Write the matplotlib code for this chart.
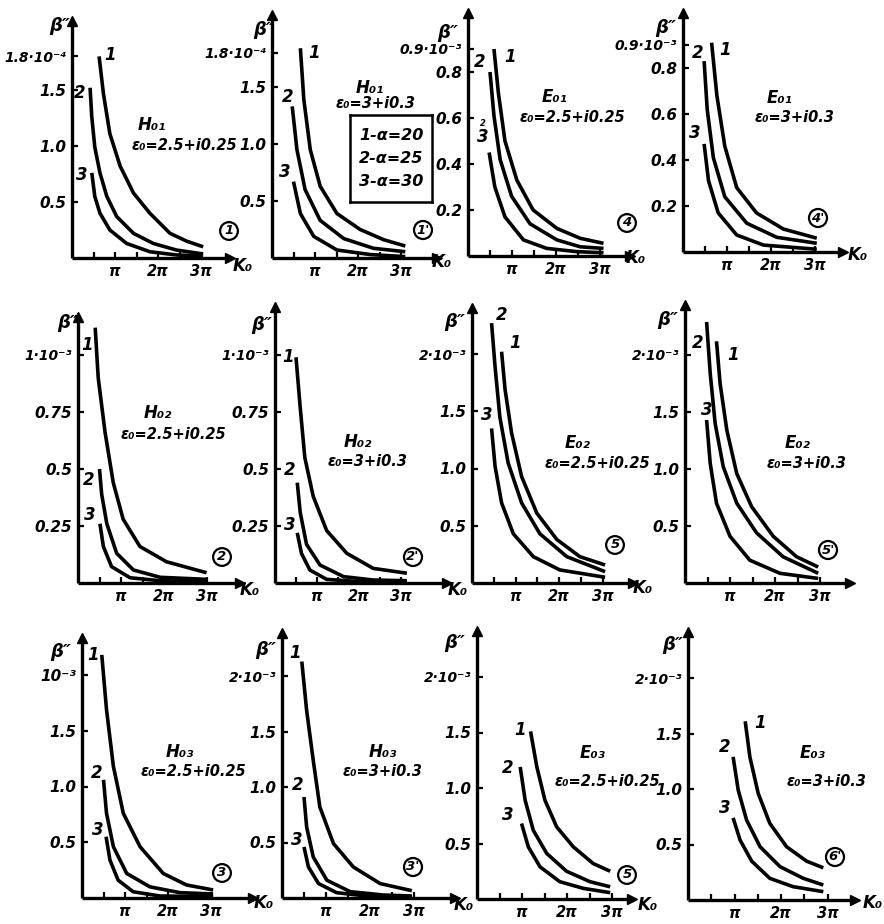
import matplotlib
matplotlib.use("Agg")
import matplotlib.pyplot as plt

W, H = 884, 924

# ---------------- data (x in units of pi, y in tick units) ----------------
# Row 1: H01 eps=2.5+i0.25
h01a_x = [[0.63, 0.73, 0.88, 1.12, 1.43, 1.81, 2.28, 2.67, 3.05],
          [0.42, 0.46, 0.53, 0.65, 0.81, 1.04, 1.43, 1.89, 2.43, 3.05],
          [0.46, 0.53, 0.65, 0.88, 1.27, 1.81, 2.43, 3.05]]
h01a_y = [[1.80, 1.47, 1.11, 0.82, 0.58, 0.40, 0.22, 0.15, 0.10],
          [1.52, 1.26, 0.99, 0.76, 0.55, 0.37, 0.22, 0.13, 0.071, 0.036],
          [0.76, 0.55, 0.40, 0.25, 0.13, 0.056, 0.027, 0.018]]
# H01 eps=3+i0.3
h01b_x = [[0.66, 0.74, 0.89, 1.12, 1.51, 2.05, 2.60, 3.10],
          [0.47, 0.58, 0.77, 1.12, 1.67, 2.36, 3.10],
          [0.50, 0.66, 0.97, 1.51, 2.29, 3.10]]
h01b_y = [[1.84, 1.39, 0.95, 0.63, 0.39, 0.25, 0.16, 0.105],
          [1.33, 0.95, 0.60, 0.33, 0.17, 0.085, 0.055],
          [0.67, 0.39, 0.19, 0.07, 0.03, 0.012]]
# E01 eps=2.5+i0.25
e01a_x = [[0.59, 0.69, 0.84, 1.11, 1.48, 2.02, 2.55, 3.08],
          [0.50, 0.59, 0.73, 0.99, 1.41, 2.02, 2.55, 3.08],
          [0.48, 0.61, 0.84, 1.26, 1.79, 2.47, 3.08]]
e01a_y = [[0.90, 0.71, 0.50, 0.33, 0.20, 0.12, 0.077, 0.055],
          [0.80, 0.61, 0.42, 0.26, 0.14, 0.07, 0.04, 0.033],
          [0.45, 0.30, 0.17, 0.07, 0.033, 0.019, 0.014]]
# E01 eps=3+i0.3
e01b_x = [[0.65, 0.77, 0.95, 1.22, 1.67, 2.28, 3.04],
          [0.48, 0.55, 0.69, 0.95, 1.45, 2.13, 3.04],
          [0.48, 0.58, 0.80, 1.22, 1.83, 3.04]]
e01b_y = [[0.91, 0.68, 0.46, 0.28, 0.17, 0.10, 0.06],
          [0.83, 0.62, 0.41, 0.24, 0.125, 0.064, 0.038],
          [0.47, 0.31, 0.17, 0.074, 0.030, 0.012]]
# Row 2: H02 eps=2.5+i0.25
h02a_x = [[0.40, 0.47, 0.63, 0.82, 1.05, 1.44, 2.06, 2.99],
          [0.50, 0.55, 0.67, 0.90, 1.29, 1.91, 2.99],
          [0.51, 0.59, 0.78, 1.21, 1.91, 2.99]]
h02a_y = [[1.12, 0.90, 0.66, 0.44, 0.28, 0.16, 0.093, 0.045],
          [0.50, 0.39, 0.26, 0.13, 0.057, 0.025, 0.016],
          [0.26, 0.16, 0.072, 0.023, 0.010, 0.006]]
# H02 eps=3+i0.3
h02b_x = [[0.50, 0.60, 0.71, 0.91, 1.23, 1.71, 2.34, 3.14],
          [0.53, 0.60, 0.75, 1.07, 1.63, 2.34, 3.14],
          [0.53, 0.63, 0.83, 1.23, 2.02, 3.14]]
h02b_y = [[0.99, 0.77, 0.55, 0.38, 0.23, 0.13, 0.064, 0.043],
          [0.44, 0.31, 0.17, 0.079, 0.028, 0.013, 0.010],
          [0.22, 0.13, 0.057, 0.016, 0.006, 0.003]]
# E02 eps=2.5+i0.25
e02a_x = [[0.68, 0.76, 0.91, 1.14, 1.49, 1.95, 2.48, 3.06],
          [0.45, 0.53, 0.64, 0.83, 1.14, 1.56, 2.18, 3.06],
          [0.45, 0.53, 0.68, 0.95, 1.41, 2.02, 3.06]]
e02a_y = [[2.02, 1.69, 1.31, 0.93, 0.61, 0.38, 0.23, 0.157],
          [2.27, 1.89, 1.45, 1.05, 0.70, 0.43, 0.23, 0.099],
          [1.35, 1.02, 0.70, 0.43, 0.23, 0.114, 0.05]]
# E02 eps=3+i0.3
e02b_x = [[0.70, 0.78, 0.93, 1.15, 1.48, 1.96, 2.48, 2.96],
          [0.48, 0.56, 0.67, 0.85, 1.15, 1.59, 2.18, 2.96],
          [0.48, 0.56, 0.70, 1.00, 1.44, 2.11, 2.96]]
e02b_y = [[2.12, 1.75, 1.34, 0.96, 0.67, 0.41, 0.23, 0.14],
          [2.29, 1.84, 1.40, 1.02, 0.70, 0.44, 0.23, 0.085],
          [1.43, 1.05, 0.70, 0.41, 0.20, 0.085, 0.04]]
# Row 3: H03 eps=2.5+i0.25
h03a_x = [[0.46, 0.57, 0.73, 0.96, 1.35, 1.89, 2.43, 3.05],
          [0.50, 0.57, 0.73, 1.04, 1.58, 2.28, 3.05],
          [0.56, 0.65, 0.84, 1.19, 1.81, 3.05]]
h03a_y = [[2.18, 1.69, 1.18, 0.76, 0.46, 0.22, 0.117, 0.072],
          [1.06, 0.76, 0.46, 0.22, 0.10, 0.048, 0.036],
          [0.55, 0.34, 0.16, 0.056, 0.018, 0.012]]
# H03 eps=3+i0.3
h03b_x = [[0.45, 0.56, 0.71, 0.86, 1.17, 1.62, 2.23, 2.95],
          [0.50, 0.56, 0.71, 1.02, 1.55, 2.30, 2.95],
          [0.50, 0.60, 0.83, 1.24, 1.92, 2.95]]
h03b_y = [[2.13, 1.69, 1.24, 0.82, 0.49, 0.28, 0.13, 0.066],
          [0.91, 0.64, 0.37, 0.16, 0.057, 0.027, 0.018],
          [0.46, 0.28, 0.13, 0.048, 0.018, 0.012]]
# E03 eps=2.5+i0.25
e03a_x = [[1.19, 1.33, 1.51, 1.77, 2.14, 2.58, 2.96],
          [0.96, 1.07, 1.25, 1.55, 1.99, 2.51, 2.96],
          [0.99, 1.14, 1.40, 1.84, 2.36, 2.96]]
e03a_y = [[1.51, 1.19, 0.89, 0.65, 0.47, 0.32, 0.25],
          [1.19, 0.89, 0.62, 0.41, 0.25, 0.156, 0.11],
          [0.68, 0.47, 0.29, 0.156, 0.096, 0.057]]
# E03 eps=3+i0.3
e03b_x = [[1.23, 1.33, 1.51, 1.76, 2.12, 2.55, 2.91],
          [0.97, 1.08, 1.26, 1.55, 1.98, 2.48, 2.91],
          [0.97, 1.12, 1.37, 1.76, 2.26, 2.91]]
e03b_y = [[1.61, 1.29, 0.96, 0.69, 0.48, 0.35, 0.29],
          [1.29, 0.99, 0.72, 0.48, 0.30, 0.195, 0.135],
          [0.74, 0.54, 0.35, 0.195, 0.12, 0.075]]

curve_names = ["1", "2", "3"]
legend_lines = ["1-α=20", "2-α=25", "3-α=30"]
xtick_vals = [1, 2, 3]
xtick_text = ["π", "2π", "3π"]

yt_h01 = [0.5, 1.0, 1.5, 1.8]
ytl_h01 = ["0.5", "1.0", "1.5", "1.8·10⁻⁴"]
yt_e01 = [0.2, 0.4, 0.6, 0.8, 0.9]
ytl_e01 = ["0.2", "0.4", "0.6", "0.8", "0.9·10⁻³"]
yt_h02 = [0.25, 0.5, 0.75, 1.0]
ytl_h02 = ["0.25", "0.5", "0.75", "1·10⁻³"]
yt_2 = [0.5, 1.0, 1.5, 2.0]
ytl_2 = ["0.5", "1.0", "1.5", "2·10⁻³"]
ytl_h03a = ["0.5", "1.0", "1.5", "10⁻³"]

# ---------------- layout (pixel geometry of each panel) ----------------
panels = [
    dict(x=h01a_x, y=h01a_y, ox=72, oy=258, ppi=43, pu=112, xmax=3.67, ymax=2.12,
         yt=yt_h01, ytl=ytl_h01, mode="H₀₁", eps="ε₀=2.5+i0.25",
         lab=[(110, 55), (80, 93), (82, 175)], mpos=(152, 125), epos=(184, 146),
         circ="1", cpos=(229, 231), beta=(60, 26), k0=(243, 266)),
    dict(x=h01b_x, y=h01b_y, ox=272, oy=258, ppi=43, pu=114, xmax=3.84, ymax=2.13,
         yt=yt_h01, ytl=ytl_h01, mode="H₀₁", eps="ε₀=3+i0.3",
         lab=[(314, 53), (288, 97), (285, 172)], mpos=(370, 88), epos=(376, 104),
         circ="1'", cpos=(423, 230), beta=(264, 30), k0=(442, 262)),
    dict(x=e01a_x, y=e01a_y, ox=468, oy=256, ppi=44, pu=230, xmax=3.68, ymax=1.057,
         yt=yt_e01, ytl=ytl_e01, mode="E₀₁", eps="ε₀=2.5+i0.25",
         lab=[(510, 57), (480, 62), (483, 137)], mpos=(555, 97), epos=(572, 118),
         circ="4", cpos=(627, 223), beta=(448, 33), k0=(636, 258)),
    dict(x=e01b_x, y=e01b_y, ox=683, oy=252, ppi=44, pu=230, xmax=3.64, ymax=1.04,
         yt=yt_e01, ytl=ytl_e01, mode="E₀₁", eps="ε₀=3+i0.3",
         lab=[(725, 50), (698, 53), (695, 133)], mpos=(780, 98), epos=(795, 118),
         circ="4'", cpos=(818, 218), beta=(666, 28), k0=(858, 255)),
    dict(x=h02a_x, y=h02a_y, ox=78, oy=583, ppi=43, pu=228, xmax=3.77, ymax=1.167,
         yt=yt_h02, ytl=ytl_h02, mode="H₀₂", eps="ε₀=2.5+i0.25",
         lab=[(87, 345), (89, 480), (90, 515)], mpos=(158, 413), epos=(173, 435),
         circ="2", cpos=(222, 557), beta=(68, 323), k0=(250, 590)),
    dict(x=h02b_x, y=h02b_y, ox=275, oy=583, ppi=42, pu=228, xmax=4.1, ymax=1.21,
         yt=yt_h02, ytl=ytl_h02, mode="H₀₂", eps="ε₀=3+i0.3",
         lab=[(288, 357), (290, 470), (290, 525)], mpos=(358, 442), epos=(368, 462),
         circ="2'", cpos=(413, 557), beta=(262, 325), k0=(458, 590)),
    dict(x=e02a_x, y=e02a_y, ox=472, oy=583, ppi=43.5, pu=114.5, xmax=3.70, ymax=2.40,
         yt=yt_2, ytl=ytl_2, mode="E₀₂", eps="ε₀=2.5+i0.25",
         lab=[(515, 343), (502, 315), (487, 415)], mpos=(578, 443), epos=(597, 463),
         circ="5", cpos=(615, 545), beta=(455, 322), k0=(643, 588)),
    dict(x=e02b_x, y=e02b_y, ox=685, oy=583, ppi=45, pu=114, xmax=3.67, ymax=2.44,
         yt=yt_2, ytl=ytl_2, mode="E₀₂", eps="ε₀=3+i0.3",
         lab=[(733, 355), (698, 343), (707, 410)], mpos=(798, 443), epos=(807, 463),
         circ="5'", cpos=(828, 550), beta=(668, 320), k0=None),
    dict(x=h03a_x, y=h03a_y, ox=82, oy=898, ppi=43, pu=111.5, xmax=3.98, ymax=2.33,
         yt=yt_2, ytl=ytl_h03a, mode="H₀₃", eps="ε₀=2.5+i0.25",
         lab=[(93, 655), (97, 773), (98, 830)], mpos=(180, 752), epos=(193, 772),
         circ="3", cpos=(222, 873), beta=(61, 652), k0=(264, 903)),
    dict(x=h03b_x, y=h03b_y, ox=282, oy=898, ppi=44, pu=111, xmax=3.93, ymax=2.39,
         yt=yt_2, ytl=ytl_2, mode="H₀₃", eps="ε₀=3+i0.3",
         lab=[(295, 653), (298, 785), (297, 840)], mpos=(383, 752), epos=(383, 772),
         circ="3'", cpos=(413, 867), beta=(266, 650), k0=(464, 905)),
    dict(x=e03a_x, y=e03a_y, ox=477, oy=899, ppi=45, pu=111, xmax=3.44, ymax=2.41,
         yt=yt_2, ytl=ytl_2, mode="E₀₃", eps="ε₀=2.5+i0.25",
         lab=[(520, 730), (508, 768), (508, 815)], mpos=(593, 753), epos=(607, 781),
         circ="5", cpos=(627, 875), beta=(455, 643), k0=(648, 905)),
    dict(x=e03b_x, y=e03b_y, ox=688, oy=900, ppi=46.5, pu=111, xmax=3.59, ymax=2.41,
         yt=yt_2, ytl=ytl_2, mode="E₀₃", eps="ε₀=3+i0.3",
         lab=[(760, 723), (725, 747), (725, 808)], mpos=(813, 753), epos=(827, 781),
         circ="6'", cpos=(835, 857), beta=(673, 645), k0=(873, 903)),
]

FONT = dict(family="DejaVu Sans", style="italic", weight="bold")

fig = plt.figure(figsize=(W / 100, H / 100), dpi=100)
fig.patch.set_facecolor("white")


def fx(px):
    return px / W


def fy(py):
    return 1 - py / H


def ftext(px, py, s, size=11, **kw):
    fig.text(fx(px), fy(py), s, ha="center", va="center", fontsize=size, **FONT, **kw)


for p in panels:
    left = p["ox"] / W
    bottom = 1 - p["oy"] / H
    width = p["xmax"] * p["ppi"] / W
    height = p["ymax"] * p["pu"] / H
    ax = fig.add_axes([left, bottom, width, height])
    ax.set_xlim(0, p["xmax"])
    ax.set_ylim(0, p["ymax"])
    ax.patch.set_alpha(0)
    for s in ("top", "right"):
        ax.spines[s].set_visible(False)
    for s in ("left", "bottom"):
        ax.spines[s].set_linewidth(2.4)
        ax.spines[s].set_capstyle("butt")
    # arrows at axis ends
    ax.plot(1, 0, marker=">", color="k", ms=7, transform=ax.get_yaxis_transform(), clip_on=False)
    ax.plot(0, 1, marker="^", color="k", ms=7, transform=ax.get_xaxis_transform(), clip_on=False)
    # curves
    for xs, ys in zip(p["x"], p["y"]):
        ax.plot(xs, ys, color="k", lw=2.6, solid_capstyle="butt", solid_joinstyle="round")
    # ticks
    ax.set_xticks(xtick_vals)
    ax.set_xticklabels(xtick_text)
    ax.set_xticks([0.5, 1.5, 2.5], minor=True)
    ax.set_yticks(p["yt"])
    ax.set_yticklabels(p["ytl"])
    ax.tick_params(axis="both", which="both", direction="in", width=1.6, length=4, color="k")
    ax.tick_params(axis="x", pad=4)
    ax.tick_params(axis="y", pad=4)
    for t in ax.get_xticklabels():
        t.set_fontsize(10.5)
        t.set_fontstyle("italic")
        t.set_fontweight("bold")
    for t in ax.get_yticklabels():
        t.set_fontsize(10 if len(t.get_text()) > 4 else 11)
        t.set_fontstyle("italic")
        t.set_fontweight("bold")
    # labels
    for (lx, ly), name in zip(p["lab"], curve_names):
        ftext(lx, ly, name, size=12)
    ftext(*p["mpos"], p["mode"], size=12)
    ftext(*p["epos"], p["eps"], size=10.5)
    ftext(*p["beta"], "β″", size=13)
    if p["k0"] is not None:
        ftext(*p["k0"], "K₀", size=12)
    fig.text(fx(p["cpos"][0]), fy(p["cpos"][1]), p["circ"], ha="center", va="center",
             fontsize=9.5, **FONT,
             bbox=dict(boxstyle="circle,pad=0.18", fc="none", ec="k", lw=1.6))

# small extra "2" in the E01 panel
ftext(483, 124, "2", size=6)

# legend box
box_ax = fig.add_axes([fx(350), fy(202), (432 - 350) / W, (202 - 115) / H])
box_ax.set_xticks([])
box_ax.set_yticks([])
box_ax.patch.set_alpha(0)
for s in box_ax.spines.values():
    s.set_linewidth(1.8)
for i, line in enumerate(legend_lines):
    box_ax.text(0.5, 0.77 - i * 0.27, line, ha="center", va="center",
                fontsize=11.5, transform=box_ax.transAxes, **FONT)

fig.savefig("out.png", dpi=100, facecolor="white")
